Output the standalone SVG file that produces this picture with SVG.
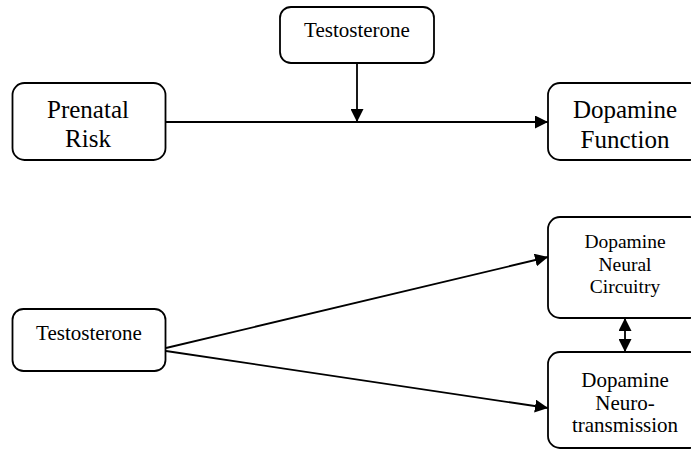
<svg xmlns="http://www.w3.org/2000/svg" width="691" height="451" viewBox="0 0 691 451">
<style>
.box{fill:#fff;stroke:#000;stroke-width:1.8}
.t{font-family:"Liberation Serif","Times New Roman",serif;fill:#000;text-anchor:middle}
.big{font-size:25px}
.mid{font-size:21px}
.sm{font-size:19.5px}
.c{stroke:#000;stroke-width:1.8;fill:none}
</style>
<defs>
<marker id="ah" viewBox="0 0 13 13" refX="13" refY="6.5" markerWidth="13" markerHeight="13" markerUnits="userSpaceOnUse" orient="auto-start-reverse">
<path d="M0,0 L13,6.5 L0,13 Z" fill="#000"/>
</marker>
</defs>
<rect width="691" height="451" fill="#fff"/>
<g id="connectors">
<line class="c" x1="166" y1="122" x2="548" y2="122" marker-end="url(#ah)"/>
<line class="c" x1="357" y1="63" x2="357" y2="122" marker-end="url(#ah)"/>
<line class="c" x1="166" y1="348" x2="548" y2="257" marker-end="url(#ah)"/>
<line class="c" x1="166" y1="351" x2="548" y2="408" marker-end="url(#ah)"/>
<line class="c" x1="625" y1="318" x2="625" y2="352" marker-start="url(#ah)" marker-end="url(#ah)"/>
</g>
<g id="testosterone-top">
<rect class="box" x="280" y="7" width="154" height="56" rx="11"/>
<text class="t mid" x="357" y="37">Testosterone</text>
</g>
<g id="prenatal-risk">
<rect class="box" x="12.5" y="83" width="153" height="77" rx="12"/>
<text class="t big" x="88" y="118">Prenatal</text>
<text class="t big" x="88" y="147">Risk</text>
</g>
<g id="dopamine-function">
<rect class="box" x="548" y="83" width="154" height="77" rx="12"/>
<text class="t big" x="625" y="118">Dopamine</text>
<text class="t big" x="625" y="148">Function</text>
</g>
<g id="testosterone-bottom">
<rect class="box" x="12.5" y="309" width="153" height="62" rx="11"/>
<text class="t mid" x="89" y="340">Testosterone</text>
</g>
<g id="dopamine-neural-circuitry">
<rect class="box" x="548" y="217" width="154" height="101" rx="12"/>
<text class="t sm" x="625" y="248">Dopamine</text>
<text class="t sm" x="625" y="271">Neural</text>
<text class="t sm" x="625" y="293">Circuitry</text>
</g>
<g id="dopamine-neurotransmission">
<rect class="box" x="548" y="352" width="154" height="96" rx="12"/>
<text class="t mid" x="625" y="387">Dopamine</text>
<text class="t mid" x="625" y="410">Neuro-</text>
<text class="t mid" x="625" y="432">transmission</text>
</g>
</svg>
